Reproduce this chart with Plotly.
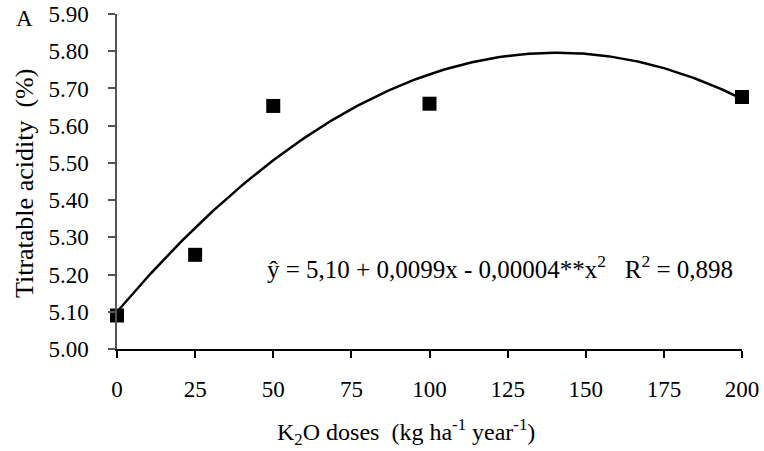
import numpy as np
import plotly.graph_objects as go

# Observed data
doses = [0, 25, 50, 100, 200]
acidity = [5.09, 5.253, 5.653, 5.659, 5.677]

# Regression curve coefficients (as drawn)
b0 = 5.10
b1 = 0.0099
b2 = 0.0000352

x_ticks = [0, 25, 50, 75, 100, 125, 150, 175, 200]
y_ticks = [5.00, 5.10, 5.20, 5.30, 5.40, 5.50, 5.60, 5.70, 5.80, 5.90]

xc = np.linspace(0, 200, 201)
yc = b0 + b1 * xc - b2 * xc ** 2

FONT = "Times New Roman, Liberation Serif, serif"

fig = go.Figure()
fig.add_trace(go.Scatter(x=xc, y=yc, mode="lines",
                         line=dict(color="black", width=2.5),
                         showlegend=False, hoverinfo="skip", cliponaxis=False))
fig.add_trace(go.Scatter(x=doses, y=acidity, mode="markers",
                         marker=dict(symbol="square", size=14, color="black"),
                         showlegend=False, cliponaxis=False))

fig.update_layout(
    width=764, height=451,
    margin=dict(l=117, r=22, t=14, b=102, autoexpand=False),
    paper_bgcolor="white", plot_bgcolor="white",
    font=dict(family=FONT, size=23, color="black"),
    xaxis=dict(range=[0, 200], tickvals=x_ticks, ticktext=[str(v) for v in x_ticks],
               showline=True, linecolor="black", linewidth=1.5,
               ticks="outside", ticklen=7, tickcolor="black", tickwidth=1.5,
               showgrid=False, zeroline=False, ticklabelstandoff=12, automargin=False,
               tickfont=dict(family=FONT, size=23)),
    yaxis=dict(range=[5.0, 5.9], tickvals=y_ticks, tickformat=".2f",
               showline=True, linecolor="#555555", linewidth=1.5,
               ticks="outside", ticklen=7, tickcolor="#555555", tickwidth=1.5,
               showgrid=False, zeroline=False, ticklabelstandoff=15, automargin=False,
               tickfont=dict(family=FONT, size=23)),
)

# Axis titles
fig.add_annotation(x=0.0, y=0.4925, xref="paper", yref="paper", xshift=-93,
                   text="Titratable acidity  (%)", textangle=-90, showarrow=False,
                   xanchor="center", yanchor="middle", font=dict(family=FONT, size=26))
fig.add_annotation(x=0.463, y=0.0, xref="paper", yref="paper", yshift=-83,
                   text="K<sub>2</sub>O doses  (kg ha<sup>-1</sup> year<sup>-1</sup>)",
                   showarrow=False, xanchor="center", yanchor="middle",
                   font=dict(family=FONT, size=24))

fig.add_annotation(x=0.0, y=1.0, xref="paper", yref="paper", xshift=-103, yshift=-4,
                   text="A", showarrow=False, xanchor="left", yanchor="middle",
                   font=dict(family=FONT, size=23))
fig.add_annotation(x=47.4, y=5.22, xref="x", yref="y",
                   text="ŷ = 5,10 + 0,0099x - 0,00004**x<sup>2</sup>   R<sup>2</sup> = 0,898",
                   showarrow=False, xanchor="left", yanchor="middle",
                   font=dict(family=FONT, size=25))

fig.write_html("out.html", config={"displayModeBar": False},
               post_script="document.body.style.margin='0';")
